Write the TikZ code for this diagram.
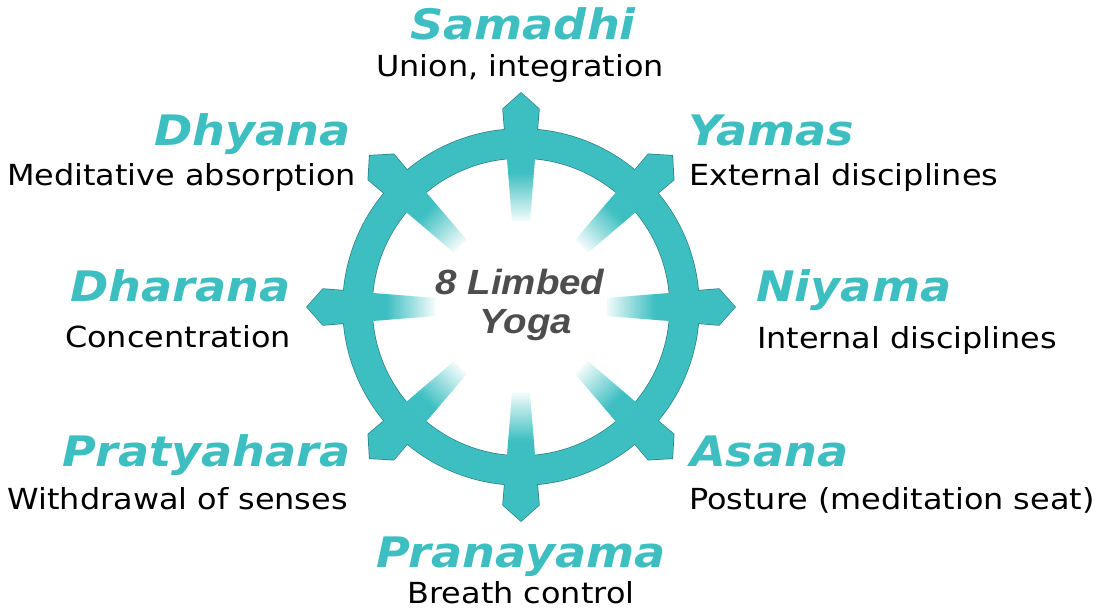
\documentclass[tikz,border=0pt]{standalone}
\usepackage{fontspec}
\setmainfont{DejaVu Sans}
\newfontfamily\titlefont[FakeStretch=1.1]{DejaVu Sans Bold Oblique}
\newfontfamily\subfont[FakeStretch=1.1]{DejaVu Sans}
\newfontfamily\hubfont[FakeStretch=1.1]{Liberation Sans Bold Italic}
\definecolor{wheel}{HTML}{3DBFC1}
\definecolor{rim}{HTML}{2F7E80}
\definecolor{hubtext}{HTML}{4D4D4D}
\begin{document}
\begin{tikzpicture}[x=1pt,y=1pt,
  title/.style={font=\titlefont\fontsize{42}{50}\selectfont, text=wheel, inner sep=0pt},
  sub/.style={font=\subfont\fontsize{29}{35}\selectfont, text=black, inner sep=0pt},
  hub/.style={font=\hubfont\fontsize{35}{40}\selectfont, text=hubtext, inner sep=0pt, anchor=base}]
\path[use as bounding box] (0,0) rectangle (1100,-610);
\fill[white] (0,0) rectangle (1100,-610);
\begin{scope}[shift={(521,-307)}]
  % outline pass
  \foreach \a in {0,45,...,315}
    \draw[rim, line width=1.4pt, rotate=\a] (165,-15.3) -- (198,-18) -- (214,0) -- (198,18) -- (165,15.3) -- cycle;
  \draw[rim, line width=1.4pt] (0,0) circle (178) (0,0) circle (149);
  % fill pass
  \fill[wheel, even odd rule] (0,0) circle (178) (0,0) circle (149);
  \foreach \a in {0,45,...,315}
    \fill[wheel, rotate=\a] (165,-15.3) -- (198,-18) -- (214,0) -- (198,18) -- (165,15.3) -- cycle;
  % spokes with fading
  \foreach \a in {0,45,...,315}{
    \begin{scope}[rotate=\a]
    \foreach \i in {0,...,29}{
      \pgfmathsetmacro\ra{86+2.2*\i}
      \pgfmathsetmacro\rb{\ra+2.7}
      \pgfmathsetmacro\ha{9+(\ra-86)*9/112}
      \pgfmathsetmacro\hb{9+(\rb-86)*9/112}
      \pgfmathsetmacro\p{min(100,6+94*(\ra+1.1-86)/48)}
      \fill[wheel!\p!white] (\ra,-\ha) -- (\rb,-\hb) -- (\rb,\hb) -- (\ra,\ha) -- cycle;
    }
    \end{scope}
  }
\end{scope}
\node[hub] (hubA) at (520,-294) {8 Limbed};
\node[hub] (hubB) at (526,-333) {Yoga};
\node[title, anchor=base] (samadhi) at (523,-40) {Samadhi};
\node[sub, anchor=base] (samadhiS) at (520,-77) {Union, integration};
\node[title, anchor=base east] (dhyana) at (351,-145) {Dhyana};
\node[sub, anchor=base east] (dhyanaS) at (356,-185) {Meditative absorption};
\node[title, anchor=base west] (yamas) at (688,-145) {Yamas};
\node[sub, anchor=base west] (yamasS) at (689,-185) {External disciplines};
\node[title, anchor=base east] (dharana) at (291,-301) {Dharana};
\node[sub, anchor=base east] (dharanaS) at (291,-347) {Concentration};
\node[title, anchor=base west] (niyama) at (756,-301) {Niyama};
\node[sub, anchor=base west] (niyamaS) at (757,-348) {Internal disciplines};
\node[title, anchor=base east] (pratyahara) at (351,-466) {Pratyahara};
\node[sub, anchor=base east] (pratyaharaS) at (348,-509) {Withdrawal of senses};
\node[title, anchor=base west] (asana) at (690,-466) {Asana};
\node[sub, anchor=base west] (asanaS) at (689,-509) {Posture (meditation seat)};
\node[title, anchor=base] (pranayama) at (521,-567) {Pranayama};
\node[sub, anchor=base] (pranayamaS) at (521,-603) {Breath control};
\end{tikzpicture}
\end{document}
